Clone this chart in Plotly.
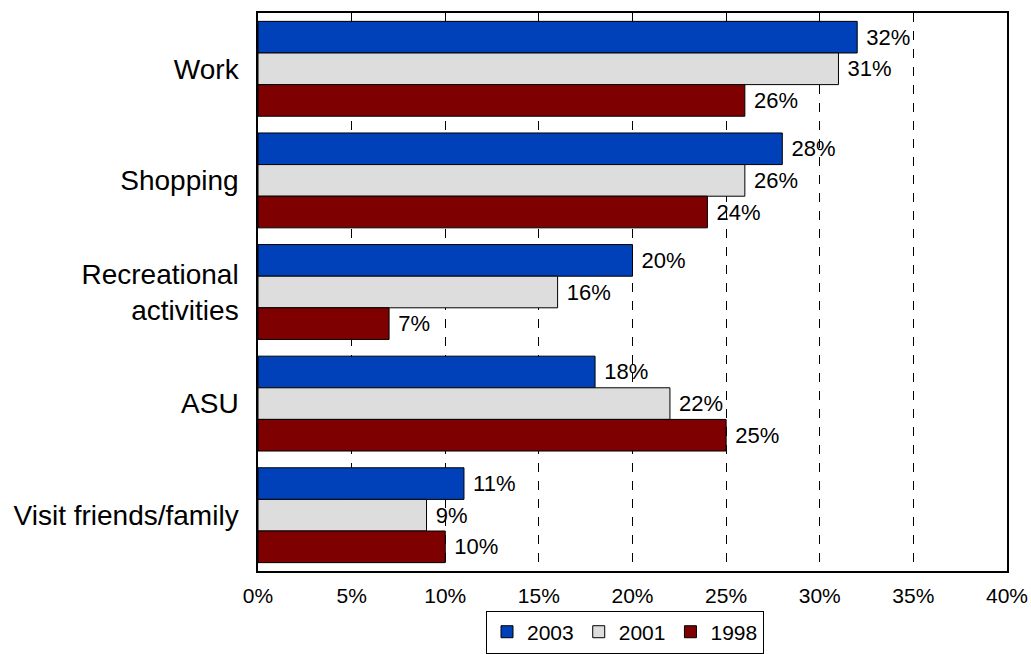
import plotly.graph_objects as go

categories = ["Work", "Shopping", "Recreational<br>activities", "ASU", "Visit friends/family"]
years = ["2003", "2001", "1998"]
values_2003 = [32, 28, 20, 18, 11]
values_2001 = [31, 26, 16, 22, 9]
values_1998 = [26, 24, 7, 25, 10]
colors = ["#0040B8", "#DDDDDD", "#7F0000"]

series = [values_2003, values_2001, values_1998]
FONT = "Liberation Sans, Arial, sans-serif"

fig = go.Figure()
for name, vals, col in zip(years, series, colors):
    fig.add_trace(go.Bar(
        y=categories, x=vals, name=name, orientation="h",
        marker=dict(color=col, line=dict(color="black", width=1)),
        text=[f"\u00a0{v}%" for v in vals], textposition="outside",
        textfont=dict(size=22, color="black", family=FONT),
        cliponaxis=False,
    ))

fig.update_layout(
    barmode="group", bargap=0.15, bargroupgap=0,
    width=1031, height=654,
    margin=dict(l=258, r=24, t=13, b=83, autoexpand=False),
    plot_bgcolor="white", paper_bgcolor="white",
    font=dict(family=FONT, color="black", size=22),
    legend=dict(orientation="h", x=0.49, xanchor="center", y=-0.148, yanchor="bottom",
                bordercolor="black", borderwidth=1, font=dict(size=21),
                itemwidth=30, tracegroupgap=0),
    showlegend=True,
)
fig.update_xaxes(range=[0, 40], dtick=5, ticksuffix="%", showline=True, mirror=True,
                 linecolor="black", linewidth=1.5, showgrid=True, gridcolor="black",
                 griddash="dash", gridwidth=1, zeroline=False, ticks="",
                 ticklabelstandoff=5, tickfont=dict(size=21))
fig.update_yaxes(autorange="reversed", showline=True, mirror=True, linecolor="black",
                 linewidth=1.5, ticks="", ticklabelstandoff=12, tickfont=dict(size=28))

fig.write_html("out.html")
